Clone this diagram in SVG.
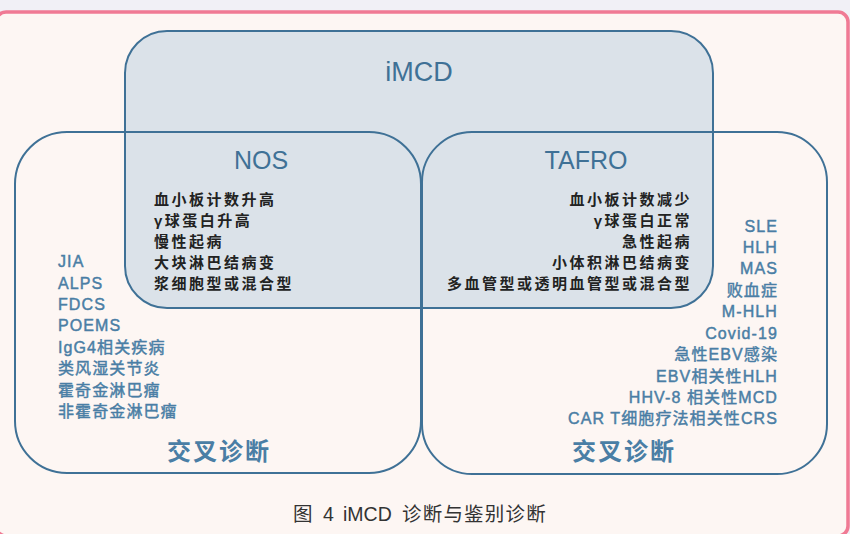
<svg xmlns="http://www.w3.org/2000/svg" width="850" height="534" viewBox="0 0 850 534">
<style>
.box{fill:none;stroke:#3f7196;stroke-width:2}
.ttl{font-family:"Liberation Sans","Noto Sans CJK SC",sans-serif;fill:#3f7196}
.blk{font-family:"Liberation Sans","Noto Sans CJK SC",sans-serif;font-size:15px;font-weight:bold;fill:#222;letter-spacing:2.5px}
.blu{font-family:"Liberation Sans","Noto Sans CJK SC",sans-serif;font-size:16px;fill:#4a7ea5;stroke:#4a7ea5;stroke-width:0.45px;letter-spacing:1.1px}
.dx{font-family:"Noto Sans CJK SC",sans-serif;font-size:24px;font-weight:bold;fill:#4a7ea5;letter-spacing:2px}
.cap{font-family:"Liberation Sans","Noto Sans CJK SC",sans-serif;font-size:19.5px;fill:#333}
</style>
<rect x="0" y="0" width="850" height="534" fill="#f1f0f6"/>
<rect x="-4" y="12" width="852" height="524" rx="10" fill="#fdf6f3" stroke="#f07a94" stroke-width="3.5"/>
<g id="imcd">
<rect x="125" y="31" width="588" height="277" rx="42" fill="#dbe2e9"/>
<rect class="box" x="125" y="31" width="588" height="277" rx="42"/>
<text class="ttl" x="419" y="81" font-size="27" text-anchor="middle">iMCD</text>
</g>
<g id="left-box">
<rect class="box" x="15" y="132" width="406" height="341" rx="52"/>
<text class="blu" x="58"><tspan x="58" y="267">JIA</tspan><tspan x="58" y="289">ALPS</tspan><tspan x="58" y="310">FDCS</tspan><tspan x="58" y="331">POEMS</tspan><tspan x="58" y="353">IgG4相关疾病</tspan><tspan x="58" y="374">类风湿关节炎</tspan><tspan x="58" y="396">霍奇金淋巴瘤</tspan><tspan x="58" y="417">非霍奇金淋巴瘤</tspan></text>
<text class="dx" x="219" y="460" text-anchor="middle">交叉诊断</text>
</g>
<g id="right-box">
<rect class="box" x="422" y="132" width="405" height="342" rx="50"/>
<text class="blu" text-anchor="end"><tspan x="778" y="232">SLE</tspan><tspan x="778" y="253">HLH</tspan><tspan x="778" y="274">MAS</tspan><tspan x="778" y="296">败血症</tspan><tspan x="778" y="317">M-HLH</tspan><tspan x="778" y="339">Covid-19</tspan><tspan x="778" y="360">急性EBV感染</tspan><tspan x="778" y="382">EBV相关性HLH</tspan><tspan x="778" y="403">HHV-8 相关性MCD</tspan><tspan x="778" y="424">CAR T细胞疗法相关性CRS</tspan></text>
<text class="dx" x="624" y="460" text-anchor="middle">交叉诊断</text>
</g>
<g id="nos">
<text class="ttl" x="261" y="169" font-size="25" text-anchor="middle">NOS</text>
<text class="blk"><tspan x="154" y="205">血小板计数升高</tspan><tspan x="154" y="226">γ球蛋白升高</tspan><tspan x="154" y="247">慢性起病</tspan><tspan x="154" y="268">大块淋巴结病变</tspan><tspan x="154" y="289">浆细胞型或混合型</tspan></text>
</g>
<g id="tafro">
<text class="ttl" x="586" y="169" font-size="25" text-anchor="middle">TAFRO</text>
<text class="blk" text-anchor="end"><tspan x="692" y="205">血小板计数减少</tspan><tspan x="692" y="226">γ球蛋白正常</tspan><tspan x="692" y="247">急性起病</tspan><tspan x="692" y="268">小体积淋巴结病变</tspan><tspan x="692" y="289">多血管型或透明血管型或混合型</tspan></text>
</g>
<g id="connectors"></g>
<text class="cap" y="521"><tspan x="293">图</tspan><tspan x="323">4</tspan><tspan x="343">iMCD</tspan><tspan x="402" letter-spacing="1.2">诊断与鉴别诊断</tspan></text>
</svg>
